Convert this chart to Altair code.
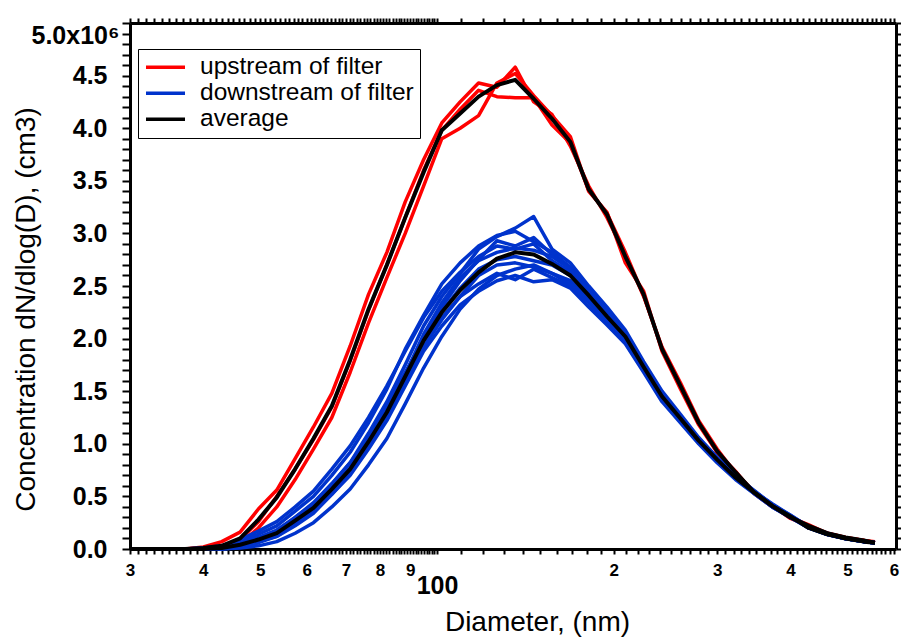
import altair as alt
import pandas as pd

FONT = "Liberation Sans"

# Particle diameter (nm) of each size channel
diameter_nm = [30.0, 32.24, 34.64, 37.23, 40.0, 42.99, 46.2, 49.64, 53.35, 57.33,
               61.6, 66.2, 71.14, 76.45, 82.15, 88.28, 94.87, 101.9, 109.5, 117.7,
               126.5, 135.9, 146.1, 157.0, 168.7, 181.3, 194.8, 209.3, 224.9, 241.7,
               259.8, 279.1, 300.0, 322.4, 346.4, 372.3, 400.0, 429.8, 461.9, 496.4,
               533.4, 557.0]

# Concentration dN/dlog(D) in units of 10^6 cm^-3
upstream_run_1 = [0, 0, 0, 0, 0.02, 0.07, 0.16, 0.38, 0.56, 0.86, 1.16, 1.48, 1.93, 2.42,
                  2.82, 3.30, 3.70, 4.05, 4.25, 4.43, 4.39, 4.58, 4.25, 4.13,
                  3.83, 3.45, 3.15, 2.80, 2.40, 1.92, 1.58, 1.22, 0.95, 0.72,
                  0.55, 0.42, 0.30, 0.23, 0.15, 0.11, 0.08, 0.07]
upstream_run_2 = [0, 0, 0, 0, 0.0, 0.01, 0.05, 0.20, 0.40, 0.66, 0.95, 1.25, 1.68, 2.15,
                  2.58, 3.00, 3.45, 3.90, 4.00, 4.12, 4.43, 4.52, 4.31, 4.12,
                  3.92, 3.40, 3.20, 2.72, 2.45, 1.88, 1.52, 1.18, 0.92, 0.74,
                  0.53, 0.40, 0.31, 0.21, 0.15, 0.10, 0.08, 0.06]
upstream_run_3 = [0, 0, 0, 0, 0.01, 0.02, 0.09, 0.26, 0.50, 0.76, 1.04, 1.35, 1.79, 2.27,
                  2.70, 3.15, 3.60, 3.98, 4.18, 4.36, 4.30, 4.29, 4.29, 4.03,
                  3.86, 3.41, 3.19, 2.82, 2.41, 1.90, 1.55, 1.20, 0.92, 0.73,
                  0.54, 0.41, 0.29, 0.22, 0.15, 0.11, 0.08, 0.06]
upstream_average = [0, 0, 0, 0, 0.01, 0.03, 0.10, 0.28, 0.49, 0.76, 1.05, 1.36, 1.80, 2.28,
                    2.70, 3.15, 3.58, 3.98, 4.14, 4.30, 4.41, 4.46, 4.28, 4.09,
                    3.87, 3.42, 3.18, 2.78, 2.42, 1.90, 1.55, 1.20, 0.93, 0.73,
                    0.54, 0.41, 0.30, 0.22, 0.15, 0.11, 0.08, 0.06]

downstream_run_1 = [0, 0, 0, 0, 0.01, 0.03, 0.09, 0.17, 0.26, 0.40, 0.55, 0.76, 0.98, 1.25,
                    1.55, 1.88, 2.20, 2.45, 2.63, 2.78, 2.88, 2.85, 2.90, 2.74,
                    2.63, 2.44, 2.20, 2.05, 1.72, 1.45, 1.22, 1.02, 0.84, 0.68,
                    0.54, 0.40, 0.31, 0.20, 0.14, 0.10, 0.07, 0.06]
downstream_run_2 = [0, 0, 0, 0, 0.0, 0.0, 0.01, 0.03, 0.07, 0.15, 0.25, 0.40, 0.57, 0.80,
                    1.05, 1.38, 1.72, 2.02, 2.28, 2.47, 2.60, 2.66, 2.70, 2.62,
                    2.55, 2.38, 2.20, 1.98, 1.72, 1.44, 1.25, 1.03, 0.86, 0.69,
                    0.55, 0.42, 0.31, 0.21, 0.14, 0.10, 0.07, 0.06]
downstream_run_3 = [0, 0, 0, 0, 0.0, 0.01, 0.04, 0.10, 0.17, 0.30, 0.43, 0.62, 0.82, 1.10,
                    1.40, 1.75, 2.12, 2.40, 2.62, 2.85, 2.97, 3.05, 3.16, 2.85,
                    2.72, 2.50, 2.30, 2.08, 1.78, 1.50, 1.28, 1.06, 0.87, 0.70,
                    0.55, 0.43, 0.32, 0.21, 0.14, 0.10, 0.07, 0.06]
downstream_run_4 = [0, 0, 0, 0, 0.0, 0.01, 0.03, 0.07, 0.12, 0.24, 0.35, 0.52, 0.70, 0.95,
                    1.22, 1.55, 1.88, 2.12, 2.32, 2.45, 2.55, 2.60, 2.54, 2.56,
                    2.48, 2.30, 2.13, 1.95, 1.68, 1.40, 1.20, 1.00, 0.82, 0.66,
                    0.53, 0.40, 0.30, 0.20, 0.14, 0.10, 0.07, 0.06]
downstream_run_5 = [0, 0, 0, 0, 0.01, 0.02, 0.07, 0.14, 0.22, 0.36, 0.50, 0.70, 0.92, 1.20,
                    1.52, 1.90, 2.22, 2.52, 2.72, 2.88, 2.98, 3.02, 2.92, 2.82,
                    2.68, 2.48, 2.26, 2.04, 1.76, 1.47, 1.26, 1.05, 0.86, 0.69,
                    0.56, 0.42, 0.32, 0.21, 0.15, 0.10, 0.07, 0.06]
downstream_run_6 = [0, 0, 0, 0, 0.0, 0.01, 0.04, 0.09, 0.16, 0.27, 0.40, 0.58, 0.77, 1.03,
                    1.32, 1.66, 2.00, 2.26, 2.48, 2.66, 2.75, 2.78, 2.74, 2.70,
                    2.60, 2.42, 2.22, 2.00, 1.74, 1.45, 1.23, 1.02, 0.85, 0.68,
                    0.54, 0.41, 0.31, 0.20, 0.14, 0.10, 0.07, 0.06]
downstream_run_7 = [0, 0, 0, 0, 0.0, 0.0, 0.02, 0.06, 0.12, 0.22, 0.34, 0.52, 0.72, 0.98,
                    1.28, 1.62, 1.98, 2.30, 2.55, 2.75, 2.93, 2.88, 2.96, 2.80,
                    2.66, 2.46, 2.28, 2.06, 1.76, 1.48, 1.26, 1.04, 0.87, 0.70,
                    0.55, 0.42, 0.31, 0.21, 0.14, 0.10, 0.07, 0.06]
downstream_run_8 = [0, 0, 0, 0, 0.0, 0.01, 0.05, 0.11, 0.18, 0.30, 0.44, 0.62, 0.82, 1.06,
                    1.36, 1.68, 1.98, 2.20, 2.40, 2.52, 2.62, 2.56, 2.66, 2.58,
                    2.50, 2.34, 2.16, 1.96, 1.70, 1.42, 1.22, 1.01, 0.83, 0.67,
                    0.53, 0.40, 0.30, 0.20, 0.14, 0.10, 0.07, 0.06]
downstream_run_9 = [0, 0, 0, 0, 0.0, 0.01, 0.03, 0.08, 0.14, 0.25, 0.38, 0.55, 0.74, 1.00,
                    1.30, 1.66, 2.04, 2.34, 2.58, 2.74, 2.82, 2.86, 2.84, 2.78,
                    2.66, 2.46, 2.26, 2.06, 1.76, 1.46, 1.24, 1.04, 0.86, 0.69,
                    0.55, 0.42, 0.31, 0.21, 0.14, 0.10, 0.07, 0.06]
downstream_run_10 = [0, 0, 0, 0, 0.0, 0.01, 0.04, 0.09, 0.15, 0.26, 0.38, 0.56, 0.75, 1.00,
                     1.28, 1.60, 1.92, 2.18, 2.40, 2.60, 2.70, 2.72, 2.68, 2.62,
                     2.52, 2.36, 2.18, 1.98, 1.70, 1.42, 1.22, 1.02, 0.84, 0.68,
                     0.54, 0.41, 0.31, 0.20, 0.14, 0.10, 0.07, 0.06]
downstream_average = [0, 0, 0, 0, 0.0, 0.01, 0.04, 0.09, 0.15, 0.27, 0.39, 0.57, 0.76, 1.02,
                      1.30, 1.64, 1.98, 2.25, 2.46, 2.63, 2.76, 2.82, 2.80, 2.71,
                      2.60, 2.41, 2.21, 2.02, 1.73, 1.45, 1.24, 1.03, 0.85, 0.68,
                      0.54, 0.41, 0.31, 0.20, 0.14, 0.10, 0.07, 0.06]

GROUPS = ["upstream of filter", "downstream of filter", "average"]
COLORS = ["#ff0000", "#0033cc", "#000000"]

# axis tick positions
x_major = [30, 40, 50, 60, 70, 80, 90, 100, 200, 300, 400, 500, 600]
x_minor = [v for v in range(31, 100) if v % 10 != 0] + [v for v in range(110, 600, 10) if v % 100 != 0]
x_all = sorted(x_major + x_minor)
y_all = [round(i / 10, 1) for i in range(51)]


def frame(series, group):
    rows = []
    for name, vals in series.items():
        for d, v in zip(diameter_nm, vals):
            rows.append({"series": name, "group": group, "diameter": d, "conc": v})
    return pd.DataFrame(rows)


UP = "upstream of filter"
DOWN = "downstream of filter"
AVG = "average"
df_up = frame({"u1": upstream_run_1, "u2": upstream_run_2, "u3": upstream_run_3}, UP)
df_down = frame({"d1": downstream_run_1, "d2": downstream_run_2, "d3": downstream_run_3,
                 "d4": downstream_run_4, "d5": downstream_run_5, "d6": downstream_run_6,
                 "d7": downstream_run_7, "d8": downstream_run_8, "d9": downstream_run_9,
                 "d10": downstream_run_10}, DOWN)
df_avg = frame({"a_up": upstream_average, "a_down": downstream_average}, AVG)

XS = alt.Scale(type="log", domain=[30, 605], nice=False)
YS = alt.Scale(domain=[0, 5], nice=False)

IS100 = "datum.value == 100"
Y5 = "datum.value == 5"

x_bottom = alt.Axis(
    orient="bottom", values=x_all, tickSize=5, grid=False,
    domainColor="#000000", domainWidth=3, tickColor="#000000", tickWidth=2,
    labelExpr=("datum.value == 100 ? '100' : ((datum.value < 100 && datum.value % 10 == 0) ? "
               "format(datum.value / 10, 'd') : (datum.value % 100 == 0 ? "
               "format(datum.value / 100, 'd') : ''))"),
    labelOverlap=False, labelFlush=False, labelBound=False, labelColor="black",
    labelFont=FONT, labelFontWeight="bold",
    labelFontSize={"condition": {"test": IS100, "value": 25}, "value": 17},
    labelPadding={"condition": {"test": IS100, "value": 19}, "value": 8},
    title="Diameter, (nm)", titleFont=FONT, titleFontSize=28, titleFontWeight="normal",
    titleColor="black", titleX=407, titleY=81, titleAlign="center", titleBaseline="alphabetic")

y_left = alt.Axis(
    orient="left", values=y_all, tickSize=8, grid=False,
    domainColor="#000000", domainWidth=3, tickColor="#000000", tickWidth=2,
    labelExpr=("datum.value == 5 ? '5.0x10\u2076' : (abs(datum.value * 2 - round(datum.value * 2)) < 0.001 ? "
               "format(datum.value, '.1f') : '')"),
    labelOverlap=False, labelFlush=False, labelBound=False, labelColor="black",
    labelFont=FONT, labelFontWeight="bold", labelFontSize=25,
    labelPadding={"condition": {"test": Y5, "value": 3}, "value": 15},
    labelBaseline={"condition": {"test": Y5, "value": "top"}, "value": "middle"},
    title="Concentration dN/dlog(D), (cm3)", titleFont=FONT, titleFontSize=28,
    titleFontWeight="normal", titleColor="black", titleAngle=270, titleX=-96, titleY=286,
    titleAlign="center", titleBaseline="alphabetic")

x_top = alt.Axis(orient="top", values=x_all, tickSize=5, labels=False, title="", grid=False,
                 domainColor="#000000", domainWidth=3, tickColor="#000000", tickWidth=2)
y_right = alt.Axis(orient="right", values=y_all, tickSize=6, labels=False, title="", grid=False,
                   domainColor="#000000", domainWidth=3, tickColor="#000000", tickWidth=2)

LEG = alt.Legend(title=None, orient="none", legendX=8, legendY=26, symbolType="stroke",
                 symbolSize=1521, symbolStrokeWidth=3.5, labelFont=FONT, labelFontSize=24.5,
                 labelColor="black", labelOffset=13, labelLimit=400, padding=6, rowPadding=0,
                 clipHeight=24.5, strokeColor="black", fillColor="white")

color = alt.Color("group:N", scale=alt.Scale(domain=GROUPS, range=COLORS), legend=LEG)


def lines(df, xaxis, yaxis, width):
    return alt.Chart(df).mark_line(strokeWidth=width, strokeJoin="round").encode(
        x=alt.X("diameter:Q", scale=XS, axis=xaxis),
        y=alt.Y("conc:Q", scale=YS, axis=yaxis),
        color=color, detail="series:N")


layers = [
    lines(df_up, x_bottom, y_left, 3.5),
    lines(df_down, x_top, y_right, 3.5),
    lines(df_avg, None, None, 4),
]

chart = alt.layer(*layers).resolve_axis(x="independent", y="independent").properties(
    width=766, height=526,
    padding={"left": 130, "top": 23, "right": 5, "bottom": 89},
    autosize=alt.AutoSizeParams(type="none"),
    background="white",
).configure_view(stroke=None)

chart.save("out.html", embed_options={"renderer": "svg", "actions": False})
